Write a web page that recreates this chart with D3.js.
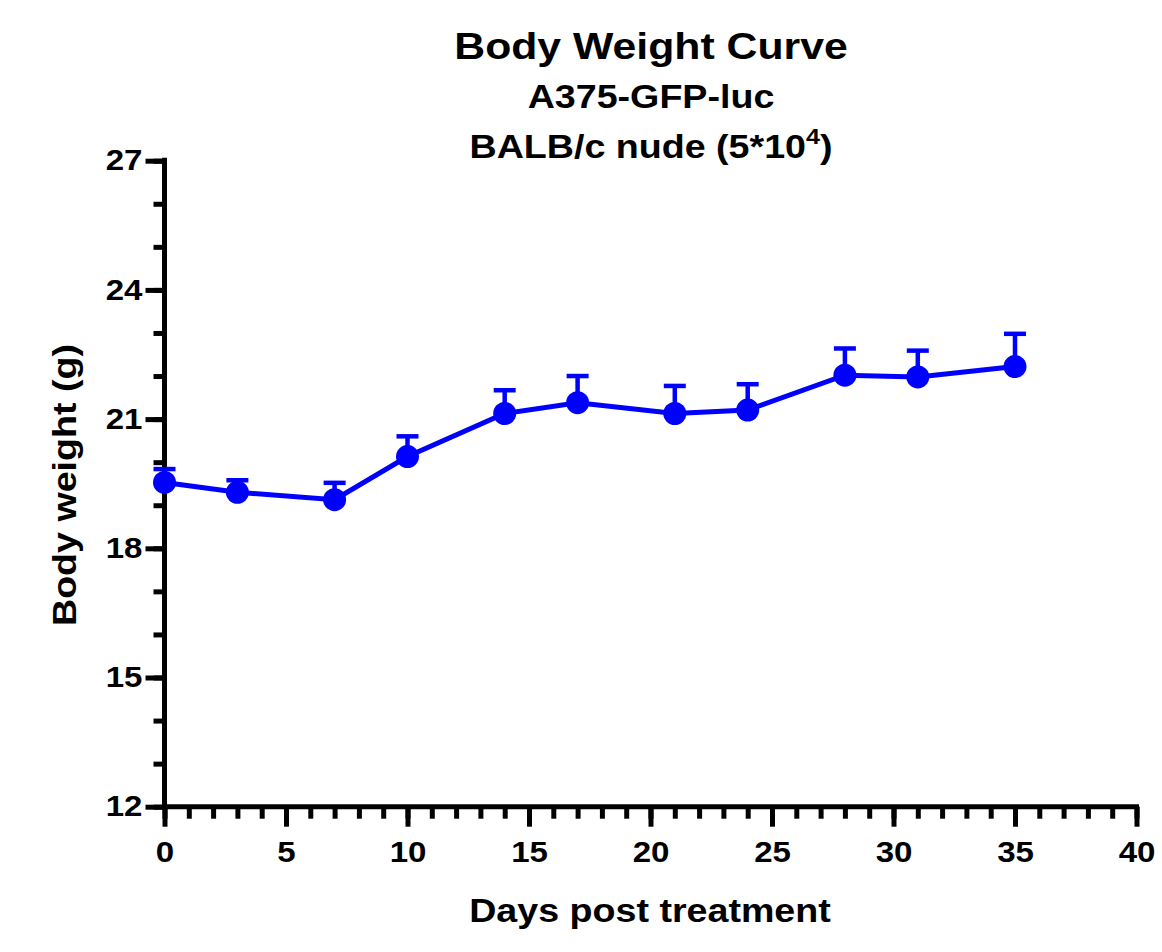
<!DOCTYPE html>
<html>
<head>
<meta charset="utf-8">
<script src="https://cdn.jsdelivr.net/npm/d3@7"></script>
<style>
  body { margin: 0; background: #fff; }
  svg text { font-family: "Liberation Sans", Arial, sans-serif; font-weight: bold; fill: #000; }
</style>
</head>
<body>
<div id="chart"></div>
<script>
// data
var days = [0, 3, 7, 10, 14, 17, 21, 24, 28, 31, 35];
var meanWeight = [19.53, 19.30, 19.13, 20.13, 21.13, 21.38, 21.13, 21.21, 22.02, 21.98, 22.22];
var upperError = [19.84, 19.58, 19.52, 20.60, 21.67, 22.00, 21.77, 21.81, 22.64, 22.59, 22.98];
var xTicks = [0, 5, 10, 15, 20, 25, 30, 35, 40];
var yTicks = [12, 15, 18, 21, 24, 27];

var w = 1162, h = 952;
var blue = "#0000ff";
// text in the picture is a bit wider than Arial
var stretch = 1.14;

var xScale = d3.scaleLinear().domain([0, 40]).range([164.5, 1136.5]);
var yScale = d3.scaleLinear().domain([12, 27]).range([806.7, 160.7]);

var svg = d3.select("#chart").append("svg")
    .attr("width", w)
    .attr("height", h);

// helper for stretched text at a point
function label(x, y, size, str, rotate) {
    return svg.append("text")
        .attr("transform", "translate(" + x + "," + y + ")" + (rotate ? " rotate(" + rotate + ")" : "") + " scale(" + stretch + ",1)")
        .attr("text-anchor", "middle")
        .style("font-size", size + "px")
        .text(str);
}

// titles
label(651, 59, 37.5, "Body Weight Curve");
label(651, 107.5, 33, "A375-GFP-luc");
var t3 = label(651, 158, 33, null);
t3.append("tspan").text("BALB/c nude (5*10");
t3.append("tspan").attr("dy", -14).style("font-size", "22px").text("4");
t3.append("tspan").attr("dy", 14).text(")");

// minor ticks
svg.append("g")
    .attr("transform", "translate(" + xScale(0) + ",0)")
    .call(d3.axisLeft(yScale).ticks(15).tickSize(11).tickSizeOuter(0).tickFormat(""));
svg.append("g")
    .attr("transform", "translate(0," + yScale(12) + ")")
    .call(d3.axisBottom(xScale).ticks(40).tickSize(12).tickSizeOuter(0).tickFormat(""));

// major ticks + labels
var yAxis = svg.append("g")
    .attr("transform", "translate(" + xScale(0) + ",0)")
    .call(d3.axisLeft(yScale).tickValues(yTicks).tickSize(19).tickSizeOuter(0).tickPadding(3));
var xAxis = svg.append("g")
    .attr("transform", "translate(0," + yScale(12) + ")")
    .call(d3.axisBottom(xScale).tickValues(xTicks).tickSize(20).tickSizeOuter(0).tickPadding(15));

svg.selectAll(".domain").remove();
svg.selectAll(".tick line").attr("stroke", "#000").attr("stroke-width", 5);
svg.selectAll(".tick text")
    .style("font-size", "29px")
    .attr("fill", "#000")
    .attr("x", function() { return +d3.select(this).attr("x") / stretch; })
    .attr("transform", "scale(" + stretch + ",1)");

// axis lines
svg.append("line")
    .attr("x1", xScale(0)).attr("x2", xScale(0))
    .attr("y1", yScale(27) - 3).attr("y2", yScale(12) + 2.5)
    .attr("stroke", "#000").attr("stroke-width", 5);
svg.append("line")
    .attr("x1", xScale(0) - 2.5).attr("x2", xScale(40) + 2.5)
    .attr("y1", yScale(12)).attr("y2", yScale(12))
    .attr("stroke", "#000").attr("stroke-width", 5);

// axis titles
label(650, 922, 33, "Days post treatment");
label(76, 485, 33, "Body weight (g)", -90);

// error bars (upper only)
var err = svg.append("g");
days.forEach(function(d, i) {
    err.append("line")
        .attr("x1", xScale(d)).attr("x2", xScale(d))
        .attr("y1", yScale(meanWeight[i])).attr("y2", yScale(upperError[i]))
        .attr("stroke", blue).attr("stroke-width", 4.5);
    err.append("line")
        .attr("x1", xScale(d) - 11).attr("x2", xScale(d) + 11)
        .attr("y1", yScale(upperError[i])).attr("y2", yScale(upperError[i]))
        .attr("stroke", blue).attr("stroke-width", 4.5);
});

// line
var line = d3.line()
    .x(function(d, i) { return xScale(days[i]); })
    .y(function(d) { return yScale(d); });
svg.append("path")
    .datum(meanWeight)
    .attr("d", line)
    .attr("fill", "none")
    .attr("stroke", blue)
    .attr("stroke-width", 5);

// markers
svg.selectAll("circle.pt")
    .data(meanWeight)
    .enter()
    .append("circle")
    .attr("class", "pt")
    .attr("cx", function(d, i) { return xScale(days[i]); })
    .attr("cy", function(d) { return yScale(d); })
    .attr("r", 11.5)
    .attr("fill", blue);
</script>
</body>
</html>
